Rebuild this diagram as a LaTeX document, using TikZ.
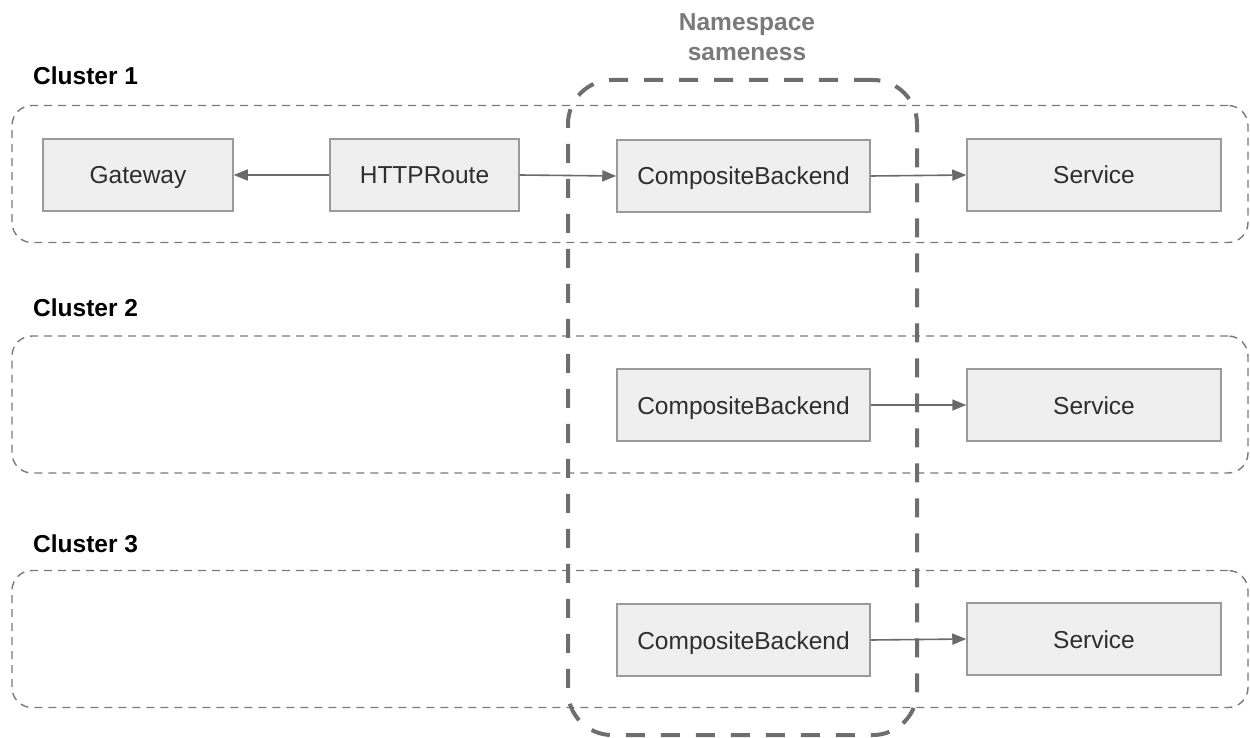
\documentclass[tikz,border=0pt]{standalone}
\usepackage{fontspec}
\setmainfont{Liberation Sans}
\usetikzlibrary{arrows.meta}
\definecolor{boxfill}{HTML}{EFEFEF}
\definecolor{boxline}{HTML}{9A9A9A}
\definecolor{dashline}{HTML}{7A7A7A}
\definecolor{nsline}{HTML}{6E6E6E}
\definecolor{nstext}{HTML}{7A7A7A}
\definecolor{txt}{HTML}{2E2E2E}
\definecolor{arrowc}{HTML}{6A6A6A}
\tikzset{
  res/.style={draw=boxline, line width=1.5pt, fill=boxfill, inner sep=0pt,
    minimum height=72pt, text height=18pt, text depth=0pt, text=txt,
    font=\fontsize{24.5pt}{28pt}\selectfont},
  clusterbox/.style={draw=dashline, line width=1.4pt, dash pattern=on 8pt off 6pt,
    rounded corners=20pt, inner sep=0pt, minimum width=1236pt, minimum height=137pt},
  nsbox/.style={draw=nsline, line width=4pt, dash pattern=on 19pt off 16pt,
    rounded corners=44pt, inner sep=0pt, minimum width=349pt, minimum height=655pt},
  clabel/.style={anchor=west, inner sep=0pt, text=black,
    font=\fontsize{24.5pt}{28pt}\selectfont\bfseries},
  conn/.style={draw=arrowc, line width=1.6pt, -{Triangle[length=14pt,width=11pt]}},
}
\begin{document}
\begin{tikzpicture}[x=1pt,y=-1pt]
\useasboundingbox (0,0) rectangle (1250,738);
% clusters
\node[clusterbox] (c1) at (630,174) {};
\node[clusterbox] (c2) at (630,404.5) {};
\node[clusterbox] (c3) at (630,639) {};
\node[clabel] (l1) at (33,76) {Cluster 1};
\node[clabel] (l2) at (33,308) {Cluster 2};
\node[clabel] (l3) at (33,543.5) {Cluster 3};
% namespace sameness
\node[nsbox] (ns) at (742.5,407.5) {};
\node[align=center, text=nstext, inner sep=0pt,
  font=\fontsize{24.5pt}{30pt}\selectfont\bfseries] (nsl) at (747,37) {Namespace\\sameness};
% cluster 1
\node[res, minimum width=190pt] (gw) at (138,175) {Gateway};
\node[res, minimum width=189pt] (hr) at (424.5,175) {HTTPRoute};
\node[res, minimum width=253pt] (cb1) at (743.5,176) {CompositeBackend};
\node[res, minimum width=254pt] (sv1) at (1094,175) {Service};
% cluster 2
\node[res, minimum width=253pt] (cb2) at (743.5,405) {CompositeBackend};
\node[res, minimum width=254pt] (sv2) at (1094,405) {Service};
% cluster 3
\node[res, minimum width=253pt] (cb3) at (743.5,640) {CompositeBackend};
\node[res, minimum width=254pt] (sv3) at (1094,639) {Service};
% connectors
\draw[conn] (hr.west) -- (gw.east);
\draw[conn] (hr.east) -- (cb1.west);
\draw[conn] (cb1.east) -- (sv1.west);
\draw[conn] (cb2.east) -- (sv2.west);
\draw[conn] (cb3.east) -- (sv3.west);
\end{tikzpicture}
\end{document}
